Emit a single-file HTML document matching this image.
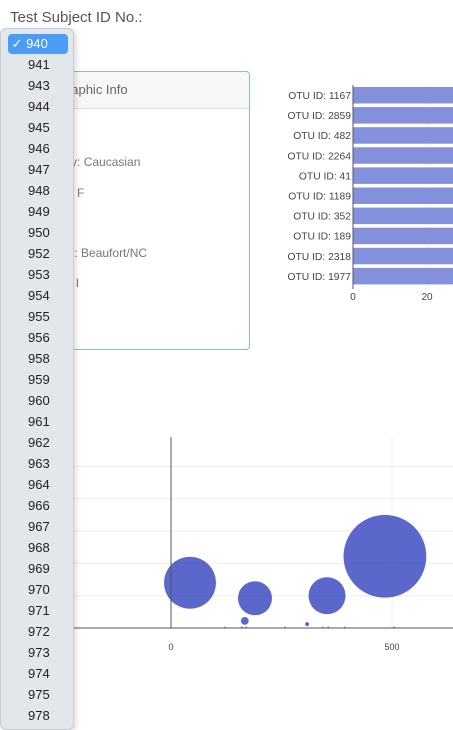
<!DOCTYPE html>
<html><head><meta charset="utf-8"><style>
body{margin:0;width:453px;height:725px;overflow:hidden;background:#fff;font-family:"Liberation Sans",sans-serif;position:relative}
.abs{position:absolute}
#title{left:10px;top:9px;font-size:15px;color:#555}
#card{left:10px;top:71px;width:238px;height:277px;border:1px solid #86c4ad;border-radius:4px;overflow:hidden}
#card .hd{height:36px;background:#f7f7f7;border-bottom:1px solid #ddd;font-size:13px;color:#666;line-height:36px;padding-left:14px}
#card .ln{position:absolute;left:22px;font-size:12px;color:#777}
#dd{left:0;top:28px;width:72px;height:700px;background:#e3e6ea;border:1px solid #c9ccd0;border-radius:6px;box-shadow:2px 2px 6px rgba(0,0,0,.15)}
.it{position:absolute;left:27px;font-size:13px;color:#222}
#sel{left:7px;top:5px;width:60px;height:20px;background:#4a9cf5;border-radius:4px;color:#fff;font-size:13px;line-height:20px}
</style></head><body>
<div id="title" class="abs">Test Subject ID No.:</div>
<div id="card" class="abs">
<div class="hd">Demographic Info</div>
<div class="ln" style="top:53px;left:15px">id: 940</div>
<div class="ln" style="top:83px">ethnicity: Caucasian</div>
<div class="ln" style="top:114px">gender: F</div>
<div class="ln" style="top:143px;left:15px">age: 24</div>
<div class="ln" style="top:174px">location: Beaufort/NC</div>
<div class="ln" style="top:204px">bbtype: I</div>
<div class="ln" style="top:234px;left:13px">wfreq: 2</div>
</div>
<svg class="abs" style="left:0;top:0" width="453" height="725" id="charts"></svg>
<div id="dd" class="abs"></div>
<script>
const ids=["940","941","943","944","945","946","947","948","949","950","952","953","954","955","956","958","959","960","961","962","963","964","966","967","968","969","970","971","972","973","974","975","978"];
const otuLabels=["OTU ID: 1167","OTU ID: 2859","OTU ID: 482","OTU ID: 2264","OTU ID: 41","OTU ID: 1189","OTU ID: 352","OTU ID: 189","OTU ID: 2318","OTU ID: 1977"];
const otuValues=[163,126,113,78,71,51,50,47,40,40];
const barTicks=[0,20];
const bubbleX=[43,190,167,308,353,484,122,160,170,258,343,356,393,505];
const bubbleY=[70,46,11,6,50,111,1,1,1,1,1,1,1,1];
const bubbleXTicks=[0,500];
const bubbleGrid=[50,100,150,200,250];
const NS="http://www.w3.org/2000/svg";
const svg=document.getElementById('charts');
function mk(t,a,p){const e=document.createElementNS(NS,t);for(const k in a)e.setAttribute(k,a[k]);(p||svg).appendChild(e);return e;}
// bar chart
const bx=v=>353+v*3.7, rowY=i=>87+i*20.1;
barTicks.forEach(t=>{if(t>0){const l=mk('line',{x1:bx(t),x2:bx(t),y1:85,y2:289,stroke:'#eee'});}
 const tx=mk('text',{x:bx(t),y:300,'font-size':10,'text-anchor':'middle',fill:'#444'});tx.textContent=t;
 });
otuLabels.forEach((lab,i)=>{const r=mk('rect',{x:bx(0),y:rowY(i),width:Math.max(0,bx(otuValues[i])-bx(0)),height:16.5,fill:'#8490dc'});
 
 const t=mk('text',{x:351,y:rowY(i)+12,'font-size':10.3,'text-anchor':'end',fill:'#444'});t.textContent=lab;
 });
const ba=mk('line',{x1:353,x2:353,y1:85,y2:289,stroke:'#555'});
// bubble chart
const px=v=>171+v*0.442, py=v=>628-v*0.646;
bubbleGrid.forEach(g=>{const l=mk('line',{x1:73,x2:453,y1:py(g),y2:py(g),stroke:'#eee'});});
bubbleXTicks.forEach(t=>{if(t>0){const l=mk('line',{x1:px(t),x2:px(t),y1:437,y2:628,stroke:'#eee'});}
 const tx=mk('text',{x:px(t),y:650,'font-size':9,'text-anchor':'middle',fill:'#444'});tx.textContent=t;
 });
bubbleX.forEach((x,i)=>{const c=mk('circle',{cx:px(x),cy:py(bubbleY[i]),r:Math.max(1,bubbleY[i]*0.375),fill:'rgba(50,65,190,0.8)',stroke:'#fff','stroke-width':0.5});
 });
const ya=mk('line',{x1:171,x2:171,y1:437,y2:628,stroke:'#555'});
const xa=mk('line',{x1:73,x2:453,y1:628,y2:628,stroke:'#555'});
// dropdown
const dd=document.getElementById('dd');
ids.forEach((id,i)=>{const d=document.createElement('div');
 if(i===0){d.id='sel';d.className='abs';d.innerHTML='&nbsp;✓ '+id;}else{d.className='it';d.style.top=(7+i*21)+'px';d.textContent=id;}
 
 
 dd.appendChild(d);});
</script>
</body></html>
